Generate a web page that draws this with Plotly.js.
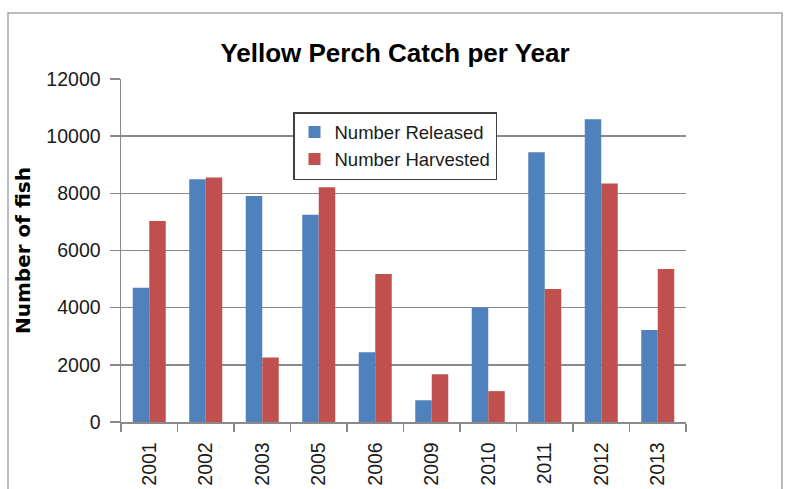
<!DOCTYPE html>
<html>
<head>
<meta charset="utf-8">
<script src="https://cdn.plot.ly/plotly-3.0.1.min.js"></script>
<style>
  html, body { margin: 0; padding: 0; background: #ffffff; }
  #chart { width: 788px; height: 489px; }
</style>
</head>
<body>
<div id="chart"></div>
<script>
const years = ["2001", "2002", "2003", "2005", "2006", "2009", "2010", "2011", "2012", "2013"];
const released = [4700, 8490, 7910, 7250, 2440, 760, 4010, 9440, 10590, 3220];
const harvested = [7030, 8550, 2260, 8210, 5180, 1670, 1080, 4650, 8340, 5350];
const yTicks = [0, 2000, 4000, 6000, 8000, 10000, 12000];

const textColor = "#1a1a1a";
const gridColor = "#8a8a8a";

const traces = [
  {
    type: "bar", name: "Number Released", x: years, y: released,
    legendgroup: "a",
    marker: { color: "#4F81BD", line: { width: 0 } }
  },
  {
    type: "bar", name: "Number Harvested", x: years, y: harvested,
    legendgroup: "b",
    marker: { color: "#C0504D", line: { width: 0 } }
  }
];

const layout = {
  width: 788, height: 489,
  paper_bgcolor: "#ffffff", plot_bgcolor: "#ffffff",
  margin: { l: 121, r: 102, t: 79, b: 67 },
  font: { family: "Liberation Sans, Arial, sans-serif", color: textColor },
  title: {
    text: "<b>Yellow Perch Catch per Year</b>",
    font: { family: "Liberation Sans, Arial, sans-serif", size: 26, color: "#000000" },
    x: 395 / 788, xanchor: "center", xref: "container",
    y: 1 - 53 / 489, yanchor: "middle", yref: "container"
  },
  barmode: "group",
  bargap: 0.416,
  bargroupgap: 0,
  showlegend: true,
  legend: {
    x: (293 - 121) / 565, xanchor: "left",
    y: (422 - 112) / 343, yanchor: "top",
    bgcolor: "#ffffff",
    bordercolor: "#404040", borderwidth: 1.5,
    font: { size: 18.5, color: textColor },
    tracegroupgap: 3,
    traceorder: "normal"
  },
  xaxis: {
    type: "category",
    tickangle: -90,
    tickson: "boundaries",
    ticks: "outside", ticklen: 8, tickwidth: 1.5, tickcolor: gridColor,
    showline: true, linecolor: gridColor, linewidth: 1.5,
    showgrid: false,
    tickfont: { size: 19.5, color: textColor },
    ticklabelstandoff: 11,
    automargin: false,
    fixedrange: true
  },
  yaxis: {
    range: [0, 12000],
    tickmode: "array", tickvals: yTicks, ticktext: yTicks.map(String),
    ticks: "outside", ticklen: 10, tickwidth: 1.5, tickcolor: gridColor,
    showline: true, linecolor: gridColor, linewidth: 1.5,
    showgrid: true, gridcolor: gridColor, gridwidth: 1.5,
    zeroline: false,
    tickfont: { size: 19.5, color: textColor },
    ticklabelstandoff: 5,
    title: {
      text: "<b>Number of fish</b>",
      font: { family: "DejaVu Sans, sans-serif", size: 20, color: "#000000" },
      standoff: 10
    },
    automargin: false,
    fixedrange: true
  },
  shapes: [
    {
      type: "rect", xref: "paper", yref: "paper", layer: "below",
      x0: (8 - 121) / 565, x1: (782 - 121) / 565,
      y0: (422 - 500) / 343, y1: (422 - 13) / 343,
      line: { color: "#a6a6a6", width: 1.5 }, fillcolor: "rgba(0,0,0,0)"
    }
  ]
};

Plotly.newPlot("chart", traces, layout, { displayModeBar: false, staticPlot: true });
</script>
</body>
</html>
